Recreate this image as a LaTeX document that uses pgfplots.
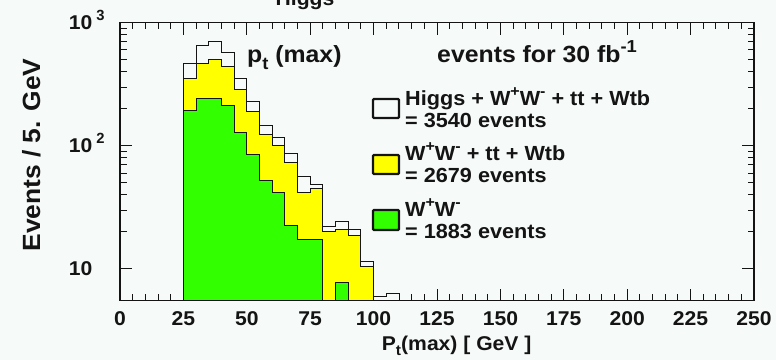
\documentclass[border=0pt]{standalone}
\usepackage{fontspec}
\setmainfont{Liberation Sans}
\usepackage{graphicx}
\usepackage{pgfplots}
\pgfplotsset{compat=1.18}
\usepackage{pgfplotstable}

\definecolor{bgcol}{RGB}{246,250,248}
\definecolor{wwgreen}{RGB}{50,255,0}
\definecolor{bkgyellow}{RGB}{255,255,0}
\definecolor{ink}{RGB}{20,20,20}

\newcommand\up[1]{\raisebox{0.45em}{\scalebox{0.74}{#1}}}
\newcommand\dn[1]{\raisebox{-0.28em}{\scalebox{0.74}{#1}}}
% slightly widened bold sans, as in the original plotting style
\newcommand\wide[1]{\scalebox{1.06}[1]{#1}}
\newcommand\tickfont{\fontsize{20}{20}\selectfont\bfseries}

% bin left edge (GeV), events per 5 GeV
\pgfplotstableread{
x y
25 464
30 653
35 707
40 577
45 351
50 228
55 146
60 117
65 86
70 56.6
75 48.4
80 21.9
85 24.1
90 21.0
95 11.5
100 5.9
105 6.3
110 1
}\totalhist

\pgfplotstableread{
x y
25 351
30 464
35 500
40 442
45 287
50 191
55 123
60 100
65 72.5
70 41.6
75 44.8
80 20.0
85 20.8
90 18.6
95 10.5
100 1
}\bkghist

\pgfplotstableread{
x y
25 193
30 243
35 243
40 214
45 129
50 85
55 52
60 42
65 22.4
70 17.2
75 17.2
80 1
85 7.8
90 1
}\wwhist

\begin{document}
\begin{tikzpicture}
\fill[bgcol] (0,0) rectangle (776bp,360bp);

\begin{axis}[
  at={(120bp,59.3bp)}, anchor=south west,
  scale only axis, width=634bp, height=278bp,
  xmin=0, xmax=250,
  ymode=log, ymin=5.5, ymax=1000,
  log origin y=infty,
  xtick={0,25,...,250},
  xticklabels={\wide{0},\wide{25},\wide{50},\wide{75},\wide{100},\wide{125},
               \wide{150},\wide{175},\wide{200},\wide{225},\wide{250}},
  minor x tick num=4,
  ytick={10,100,1000},
  yticklabels={\makebox[39bp][l]{\wide{10}},
               \makebox[39bp][l]{\wide{10}\hspace{4bp}\up{2}},
               \makebox[39bp][l]{\wide{10}\hspace{4bp}\up{3}}},
  tick label style={font=\tickfont, text=ink, inner sep=0pt},
  xticklabel style={anchor=base, yshift=-25.3bp},
  yticklabel style={anchor=base east, xshift=-12bp, yshift=-7bp},
  axis line style={line width=1.2bp, ink},
  major tick length=12bp, minor tick length=6.5bp,
  every tick/.style={line width=1bp, ink},
  axis background/.style={fill=bgcol},
]
\addplot[const plot, fill=bgcol, draw=ink, line width=0.9bp] table {\totalhist} \closedcycle;
\addplot[const plot, fill=bkgyellow, draw=ink, line width=0.9bp] table {\bkghist} \closedcycle;
\addplot[const plot, fill=wwgreen, draw=ink, line width=0.9bp] table {\wwhist} \closedcycle;
\end{axis}

% title, partly above the page edge
\node[anchor=base, font=\fontsize{20}{20}\selectfont\bfseries, text=ink, inner sep=0pt]
  at (305bp,354bp) {\wide{Higgs}};

% axis titles
\node[anchor=base, rotate=90, font=\fontsize{25}{25}\selectfont\bfseries, text=ink, inner sep=0pt]
  at (40bp,205bp) {\wide{Events / 5. GeV}};
\node[anchor=base west, font=\fontsize{20}{20}\selectfont\bfseries, text=ink, inner sep=0pt]
  at (381.7bp,10bp) {\wide{P\dn{t}(max) [ GeV ]}};

% annotations in the plot area
\node[anchor=base west, font=\fontsize{23.5}{23.5}\selectfont\bfseries, text=ink, inner sep=0pt]
  at (247bp,297.5bp) {\wide{p\dn{t} (max)}};
\node[anchor=base west, font=\fontsize{23.5}{23.5}\selectfont\bfseries, text=ink, inner sep=0pt]
  at (437bp,297bp) {\wide{events for 30 fb\up{-1}}};

% legend
\begin{scope}[line width=2.4bp, draw=ink, rounded corners=1bp]
  \draw[fill=bgcol]     (373bp,242bp) rectangle (399bp,261bp);
  \draw[fill=bkgyellow] (373bp,186bp) rectangle (399bp,205bp);
  \draw[fill=wwgreen]   (373bp,130bp) rectangle (399bp,150bp);
\end{scope}
\begin{scope}[every node/.style={anchor=base west, font=\fontsize{20.5}{20.5}\selectfont\bfseries, text=ink, inner sep=0pt}]
  \node at (405bp,254bp)   {\wide{Higgs + W\up{+}W\up{-} + tt + Wtb}};
  \node at (405bp,232.3bp) {\wide{= 3540 events}};
  \node at (405bp,199.3bp) {\wide{W\up{+}W\up{-} + tt + Wtb}};
  \node at (405bp,177.3bp) {\wide{= 2679 events}};
  \node at (405bp,143.3bp) {\wide{W\up{+}W\up{-}}};
  \node at (405bp,121.7bp) {\wide{= 1883 events}};
\end{scope}

\pgfresetboundingbox
\useasboundingbox (0,0) rectangle (776bp,360bp);
\end{tikzpicture}
\end{document}
